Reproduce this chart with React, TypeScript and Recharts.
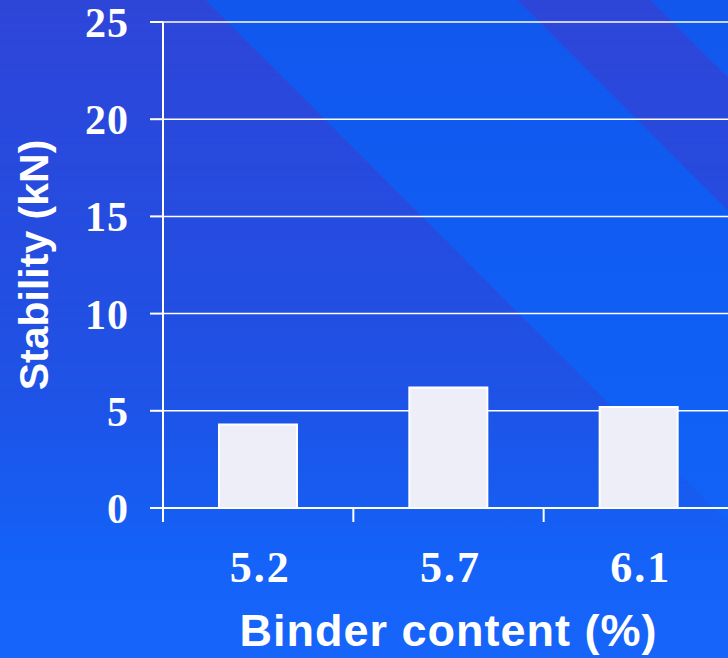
import React from 'react';
import { BarChart, Bar, XAxis, YAxis, CartesianGrid, Label } from 'recharts';

const categories = ['5.2', '5.7', '6.1'];
const stabilityValues = [4.3, 6.2, 5.2];
const yTicks = [0, 5, 10, 15, 20, 25];
// band edges get a tick mark, band centres get the category label
const xTicks = [0, 0.5, 1, 1.5, 2, 2.5, 3];

const data = categories.map((c, i) => ({ pos: i + 0.5, binder: c, stability: stabilityValues[i] }));

const XTick = (props: any) => {
  const { x, y, payload } = props;
  const v = payload.value;
  if (Number.isInteger(v)) {
    return <line x1={x} x2={x} y1={y - 14} y2={y} stroke="#ffffff" strokeWidth={2} />;
  }
  return (
    <text
      x={x + 2}
      y={y + 60}
      textAnchor="middle"
      fill="#ffffff"
      fontFamily="'Liberation Serif', serif"
      fontWeight="bold"
      fontSize={44}
      letterSpacing={2}
    >
      {categories[Math.floor(v)]}
    </text>
  );
};

const YTitle = (props: any) => {
  const { viewBox } = props;
  const cx = 34;
  const cy = viewBox.y + viewBox.height / 2;
  return (
    <text
      x={cx}
      y={cy}
      transform={`rotate(-90, ${cx}, ${cy})`}
      textAnchor="middle"
      dominantBaseline="central"
      fill="#ffffff"
      fontFamily="'Liberation Sans', Arial, sans-serif"
      fontWeight="bold"
      fontSize={41}
    >
      Stability (kN)
    </text>
  );
};

const stripes =
  'linear-gradient(45deg, #2e46d8 0%, #2e46d8 62.3%, transparent 62.3%, transparent 84.8%, #2e46d8 84.8%, #2e46d8 94.4%, transparent 94.4%)';
const fade = 'linear-gradient(to bottom, rgba(0,0,0,1) 0%, rgba(0,0,0,0.5) 60%, rgba(0,0,0,0) 85%)';

export default function App() {
  return (
    <div
      style={{
        position: 'absolute',
        left: 0,
        top: 0,
        width: 728,
        height: 658,
        overflow: 'hidden',
        background: 'linear-gradient(to bottom, #1157ee 0%, #1060f5 60%, #1764fa 100%)',
      }}
    >
      <div
        style={{
          position: 'absolute',
          inset: 0,
          background: stripes,
          WebkitMaskImage: fade,
          maskImage: fade,
        }}
      />
      <div style={{ position: 'absolute', left: 0, top: 0 }}>
        <BarChart width={758} height={658} data={data} margin={{ top: 22, right: 24, left: 0, bottom: 0 }}>
          <CartesianGrid vertical={false} stroke="#ffffff" strokeWidth={1.5} />
          <XAxis
            dataKey="pos"
            type="number"
            domain={[0, 3]}
            ticks={xTicks}
            interval={0}
            height={150}
            tickSize={14}
            tickMargin={0}
            tickLine={false}
            axisLine={{ stroke: '#ffffff', strokeWidth: 2 }}
            tick={<XTick />}
          >
            <Label
              value="Binder content (%)"
              position="insideBottom"
              offset={12}
              fill="#ffffff"
              fontFamily="'Liberation Sans', Arial, sans-serif"
              fontWeight="bold"
              fontSize={45}
              letterSpacing={1}
            />
          </XAxis>
          <YAxis
            domain={[0, 25]}
            ticks={yTicks}
            interval={0}
            width={163}
            tickSize={13}
            tickMargin={21}
            axisLine={{ stroke: '#ffffff', strokeWidth: 2 }}
            tickLine={{ stroke: '#ffffff', strokeWidth: 2 }}
            tick={{ fill: '#ffffff', fontFamily: "'Liberation Serif', serif", fontWeight: 'bold', fontSize: 42, letterSpacing: 1 }}
          >
            <Label content={<YTitle />} />
          </YAxis>
          <Bar dataKey="stability" barSize={78} fill="#eeeef8" stroke="#ffffff" strokeWidth={2} isAnimationActive={false} />
        </BarChart>
      </div>
    </div>
  );
}
